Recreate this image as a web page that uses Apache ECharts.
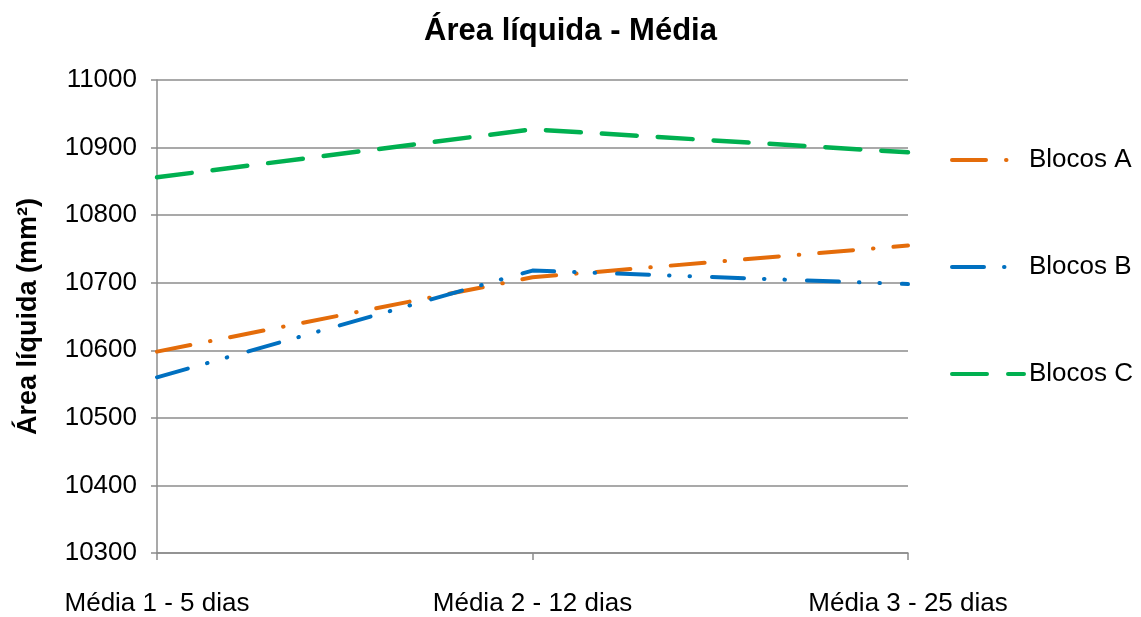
<!DOCTYPE html>
<html><head><meta charset="utf-8">
<script src="https://cdn.jsdelivr.net/npm/echarts@6/dist/echarts.min.js"></script>
<style>html,body{margin:0;padding:0;background:#fff}#c{width:1141px;height:617px}</style>
</head><body><div id="c"></div>
<script>
const categories = ['Média 1 - 5 dias', 'Média 2 - 12 dias', 'Média 3 - 25 dias'];
const blocosA = [10598, 10708, 10755];
const blocosB = [10560, 10718, 10698];
const blocosC = [10856, 10927, 10893];
const seriesNames = ['Blocos A', 'Blocos B', 'Blocos C'];

const chart = echarts.init(document.getElementById('c'));
const font = 'Liberation Sans, Arial, sans-serif';
function mk(name, data, color, dash, w) {
  return {
    name, type: 'line', data, showSymbol: false, symbol: 'none',
    lineStyle: { color, width: w, type: dash, cap: 'round' },
    itemStyle: { color }
  };
}
chart.setOption({
  animation: false,
  title: { text: 'Área líquida - Média', left: 'center', top: 11,
    textStyle: { fontFamily: font, fontSize: 31, fontWeight: 'bold', color: '#000' } },
  legend: {
    orient: 'vertical', left: 950, top: 147, padding: 0, itemWidth: 72, itemHeight: 14, itemGap: 81,
    itemStyle: { opacity: 0 },
    lineStyle: { width: 4 },
    textStyle: { fontFamily: font, fontSize: 26, color: '#000' },
    data: seriesNames
  },
  grid: { left: 157, right: 233, top: 80, bottom: 62 },
  xAxis: {
    type: 'category', data: categories, boundaryGap: false,
    axisLine: { lineStyle: { color: '#8c8c8c', width: 1.5 } },
    axisTick: { show: true, length: 7, lineStyle: { color: '#8c8c8c', width: 1.5 } },
    axisLabel: { fontFamily: font, fontSize: 26, color: '#000', margin: 38 }
  },
  yAxis: {
    type: 'value', min: 10300, max: 11000, interval: 100,
    name: 'Área líquida (mm²)', nameLocation: 'middle', nameGap: 115,
    nameTextStyle: { fontFamily: font, fontSize: 27, fontWeight: 'bold', color: '#000' },
    axisLine: { show: true, lineStyle: { color: '#8c8c8c', width: 1.5 } },
    axisTick: { show: true, length: 6, lineStyle: { color: '#8c8c8c', width: 1.5 } },
    splitLine: { lineStyle: { color: '#8c8c8c', width: 1.5 } },
    axisLabel: { fontFamily: font, fontSize: 26, color: '#000', margin: 20,
      formatter: v => String(v) }
  },
  series: [
    mk('Blocos A', blocosA, '#E46C0A', [34, 20, 0.5, 20], 4),
    mk('Blocos B', blocosB, '#0070C0', [32, 20, 0.5, 20, 0.5, 22], 4),
    mk('Blocos C', blocosC, '#00B050', [35, 21], 4.5)
  ]
});
</script></body></html>
